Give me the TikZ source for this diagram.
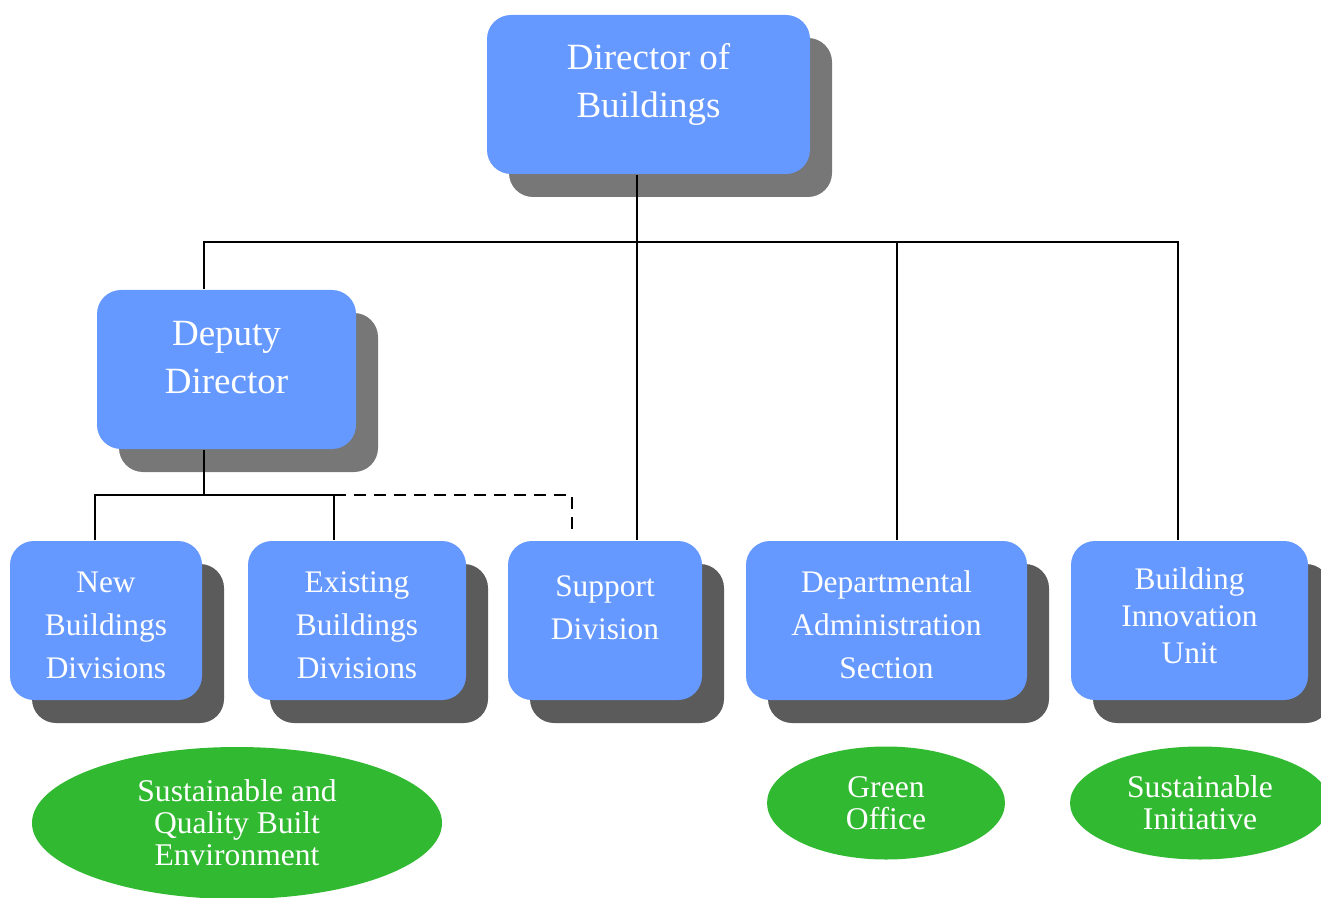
\documentclass[tikz,border=0pt]{standalone}
\usepackage{fontspec}
\setmainfont{Liberation Serif}
\usetikzlibrary{shadows, shapes.geometric}
\definecolor{boxblue}{HTML}{6699FF}
\definecolor{goalgreen}{HTML}{31B931}
\definecolor{shadowlight}{HTML}{777777}
\definecolor{shadowdark}{HTML}{5B5B5B}

\begin{document}
\begin{tikzpicture}[x=0.5pt,y=-0.5pt,line width=1pt,
  box/.style={rectangle,rounded corners=12pt,fill=boxblue,text=white,align=center,
    minimum height=79.5pt,inner sep=2pt},
  head box/.style={box,font=\fontsize{18.5}{24}\selectfont,
    drop shadow={shadow xshift=11pt,shadow yshift=-11.5pt,fill=shadowlight,opacity=1}},
  unit box/.style={box,font=\fontsize{15.7}{21.5}\selectfont,
    drop shadow={shadow xshift=11pt,shadow yshift=-11.5pt,fill=shadowdark,opacity=1}},
  goal/.style={ellipse,fill=goalgreen,text=white,align=center,inner sep=0pt,
    font=\fontsize{15.8}{16}\selectfont}]
  \useasboundingbox (0,0) rectangle (1321,898);
  % boxes
  \node[head box, minimum width=161.5pt] (dir) at (648.5,94.5) {Director of\\Buildings\\[-10pt]};
  \node[head box, minimum width=129.5pt] (dep) at (226.5,369.5) {Deputy\\Director\\[-12pt]};
  \node[unit box, minimum width=96pt] (new) at (106,620.5) {\rule{0pt}{15.5pt}New\\Buildings\\Divisions};
  \node[unit box, minimum width=109pt] (exist) at (357,620.5) {\rule{0pt}{15.5pt}Existing\\Buildings\\Divisions};
  \node[unit box, minimum width=97pt] (sup) at (605,620.5) {Support\\Division\\[-8.5pt]};
  \node[unit box, minimum width=140.5pt] (dept) at (886.5,620.5) {\rule{0pt}{15.5pt}Departmental\\Administration\\Section};
  \node[unit box, minimum width=118.5pt, font=\fontsize{15.7}{18.5}\selectfont] (biu) at (1189.5,620.5) {Building\\Innovation\\Unit\\[-13.5pt]};
  % goals
  \node[goal, minimum width=205pt, minimum height=76pt] (sqbe) at (237,823) {Sustainable and\\Quality Built\\Environment};
  \node[goal, minimum width=119pt, minimum height=56.5pt] (green) at (886,803) {Green\\Office};
  \node[goal, minimum width=130pt, minimum height=56.5pt] (init) at (1200,803) {Sustainable\\Initiative};
  % connectors
  \coordinate (busL) at (204,242);
  \coordinate (busR) at (1178,242);
  \coordinate (trunk) at (637,242);
  \coordinate (tap) at (897,242);
  \draw (busL |- dep.north) -- (busL) -- (busR) -- (busR |- biu.north);
  \draw (trunk |- dir.south) -- (trunk |- sup.north);
  \draw (tap) -- (tap |- dept.north);
  \coordinate (sub) at (204,495);
  \coordinate (subL) at (95,495);
  \coordinate (subM) at (334,495);
  \coordinate (subR) at (572,495);
  \draw (sub |- dep.south) -- (sub);
  \draw (subL |- new.north) -- (subL) -- (subM) -- (subM |- exist.north);
  \draw[dashed,dash pattern=on 6pt off 4pt,shorten >=2pt] (subM) -- (subR) -- (subR |- sup.north);
\end{tikzpicture}
\end{document}
